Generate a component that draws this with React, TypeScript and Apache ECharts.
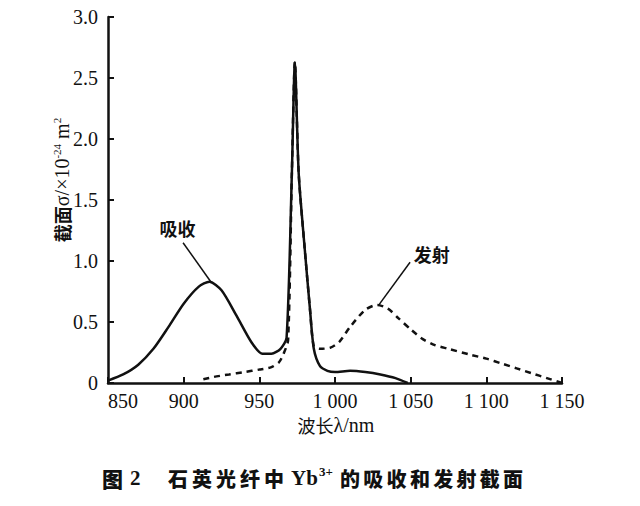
import React, { useEffect, useRef } from "react";
import * as echarts from "echarts";

// wavelength (nm) and cross-section (×10^-24 m²)
const absWavelength = [850, 860, 870, 880, 890, 900, 910, 917, 925, 935, 945, 952, 958, 964, 968, 971.5, 973.5, 976, 980, 983.5, 986, 990, 995, 1000, 1010, 1020, 1030, 1040, 1048];
const absValues = [0.02, 0.07, 0.15, 0.28, 0.46, 0.65, 0.79, 0.83, 0.76, 0.55, 0.33, 0.24, 0.24, 0.28, 0.37, 1.72, 2.63, 1.72, 1.1, 0.6, 0.28, 0.14, 0.1, 0.09, 0.1, 0.09, 0.07, 0.04, 0.0];

const emiWavelength = [913, 920, 930, 940, 950, 958, 963, 966, 969, 971.5, 973.5, 976, 980, 983.5, 986, 990, 997, 1003, 1010, 1020, 1028, 1035, 1042, 1050, 1058, 1066, 1075, 1090, 1100, 1110, 1120, 1130, 1140, 1150];
const emiValues = [0.03, 0.05, 0.07, 0.09, 0.11, 0.13, 0.17, 0.24, 0.35, 1.72, 2.63, 1.72, 1.1, 0.6, 0.3, 0.28, 0.29, 0.34, 0.46, 0.6, 0.64, 0.61, 0.53, 0.44, 0.36, 0.31, 0.28, 0.23, 0.2, 0.16, 0.12, 0.08, 0.04, 0.0];

const xTicks = [850, 900, 950, 1000, 1050, 1100, 1150];
const yTicks = [0, 0.5, 1.0, 1.5, 2.0, 2.5, 3.0];

const absLabel = "吸收";
const emiLabel = "发射";
const absLabelAt = [896, 1.27];
const absLeader = [[899.6, 1.15], [918.5, 0.82]];
const emiLabelAt = [1064, 1.06];
const emiLeader = [[1049.6, 0.99], [1029, 0.64]];

const captionFig = "图";
const captionNum = "2";
const captionHead = "石英光纤中";
const captionIon = "Yb";
const captionSup = "3+";
const captionTail = "的吸收和发射截面";

const SERIF = "'Liberation Serif', 'DejaVu Serif', serif";
const CJK = "'Noto Sans CJK SC', sans-serif";

export default function App() {
  const ref = useRef<HTMLDivElement>(null);
  useEffect(() => {
    if (!ref.current) return;
    const chart = echarts.init(ref.current, undefined, { renderer: "svg" });
    const fmtX = (v: number) => {
      const s = String(v);
      return s.length > 3 ? s.slice(0, s.length - 3) + " " + s.slice(-3) : s;
    };
    const caption =
      `{f|${captionFig}}{n|${captionNum}}` +
      captionHead.split("").map((c) => `{k|${c}}`).join("") +
      `{m|${captionIon}}{s|${captionSup}}` +
      captionTail.split("").map((c) => `{t|${c}}`).join("");
    chart.setOption({
      animation: false,
      backgroundColor: "#fff",
      grid: { left: 108, right: 78, top: 17, bottom: 123 },
      xAxis: {
        type: "value",
        min: xTicks[0],
        max: xTicks[xTicks.length - 1],
        interval: 50,
        axisLine: { lineStyle: { color: "#111", width: 2.5 } },
        axisTick: { inside: true, length: 6, lineStyle: { color: "#111", width: 2 } },
        axisLabel: { color: "#111", fontFamily: SERIF, fontSize: 20, margin: 8, formatter: fmtX, alignMinLabel: "left" },
        splitLine: { show: false },
      },
      yAxis: {
        type: "value",
        min: yTicks[0],
        max: yTicks[yTicks.length - 1],
        interval: 0.5,
        axisLine: { show: true, lineStyle: { color: "#111", width: 2.5 } },
        axisTick: { show: true, inside: true, length: 6, lineStyle: { color: "#111", width: 2 } },
        axisLabel: {
          color: "#111", fontFamily: SERIF, fontSize: 20, margin: 10,
          formatter: (v: number) => (v === 0 ? "0" : v.toFixed(1)),
        },
        splitLine: { show: false },
      },
      series: [
        {
          type: "line",
          name: emiLabel,
          data: emiWavelength.map((x, i) => [x, emiValues[i]]),
          showSymbol: false,
          smooth: 0.25,
          lineStyle: { color: "#111", width: 2.5, type: [6, 5] },
          z: 2,
          markLine: {
            silent: true,
            symbol: "none",
            lineStyle: { color: "#111", width: 1.5, type: "solid" },
            label: { show: false },
            data: [[{ coord: emiLeader[0] }, { coord: emiLeader[1] }]],
          },
          markPoint: {
            symbol: "circle",
            symbolSize: 0,
            label: { show: true, position: "inside", color: "#111", fontFamily: CJK, fontSize: 18, fontWeight: "bold", formatter: emiLabel },
            data: [{ coord: emiLabelAt }],
          },
        },
        {
          type: "line",
          name: absLabel,
          data: absWavelength.map((x, i) => [x, absValues[i]]),
          showSymbol: false,
          smooth: 0.25,
          lineStyle: { color: "#111", width: 2.5 },
          z: 3,
          markLine: {
            silent: true,
            symbol: "none",
            lineStyle: { color: "#111", width: 1.5, type: "solid" },
            label: { show: false },
            data: [[{ coord: absLeader[0] }, { coord: absLeader[1] }]],
          },
          markPoint: {
            symbol: "circle",
            symbolSize: 0,
            label: { show: true, position: "inside", color: "#111", fontFamily: CJK, fontSize: 18, fontWeight: "bold", formatter: absLabel },
            data: [{ coord: absLabelAt }],
          },
        },
      ],
      graphic: [
        {
          type: "text",
          x: 62,
          y: 180,
          rotation: Math.PI / 2,
          style: {
            text: "{c|截面}{m|σ/×10}{s|-24}{m| m}{s|2}",
            align: "center",
            verticalAlign: "middle",
            fill: "#111",
            rich: {
              c: { fontFamily: CJK, fontSize: 18, fontWeight: "bold", fill: "#111", lineHeight: 22 },
              m: { fontFamily: SERIF, fontSize: 20, fill: "#111", lineHeight: 22 },
              s: { fontFamily: SERIF, fontSize: 11, fill: "#111", lineHeight: 22, verticalAlign: "top" },
            },
          },
        },
        {
          type: "text",
          x: 336,
          y: 425,
          style: {
            text: "{c|波长}{m|λ/nm}",
            align: "center",
            verticalAlign: "middle",
            fill: "#111",
            rich: {
              c: { fontFamily: CJK, fontSize: 18, fill: "#111" },
              m: { fontFamily: SERIF, fontSize: 20, fill: "#111" },
            },
          },
        },
        {
          type: "text",
          x: 102,
          y: 478,
          style: {
            text: caption,
            align: "left",
            verticalAlign: "middle",
            fill: "#111",
            rich: {
              f: { fontFamily: CJK, fontSize: 21, fontWeight: 900, fill: "#111", lineHeight: 26, width: 28 },
              n: { fontFamily: SERIF, fontSize: 21, fontWeight: "bold", fill: "#111", lineHeight: 26, width: 38 },
              k: { fontFamily: CJK, fontSize: 20, fontWeight: 900, fill: "#111", lineHeight: 26, width: 24 },
              m: { fontFamily: SERIF, fontSize: 21, fontWeight: "bold", fill: "#111", lineHeight: 26, width: 28, padding: [0, 0, 0, 3] },
              s: { fontFamily: SERIF, fontSize: 13, fontWeight: "bold", fill: "#111", lineHeight: 26, verticalAlign: "top", width: 21 },
              t: { fontFamily: CJK, fontSize: 20, fontWeight: 900, fill: "#111", lineHeight: 26, width: 23.3 },
            },
          },
        },
      ],
    });
    return () => chart.dispose();
  }, []);
  return <div ref={ref} style={{ width: 640, height: 506, position: "absolute", left: 0, top: 0 }} />;
}
